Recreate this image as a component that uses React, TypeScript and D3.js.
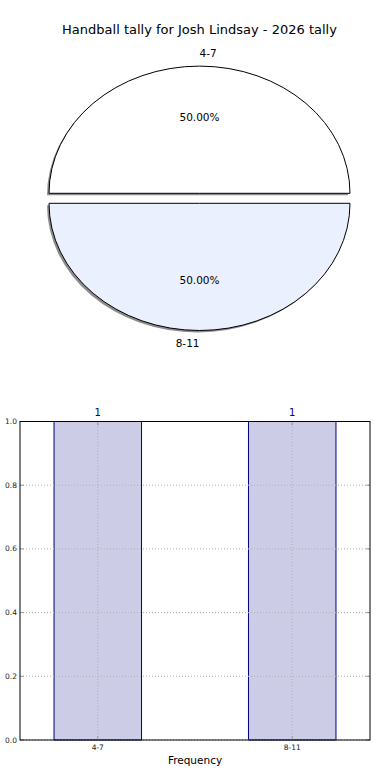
import React from "react";
import * as d3 from "d3";

const title = "Handball tally for Josh Lindsay - 2026 tally";
const categories = ["4-7", "8-11"];
const counts = [1, 1];
const pieColors = ["#ffffff", "#eaf0fd"];
const yTicks = [0, 0.2, 0.4, 0.6, 0.8, 1.0];
const xLabel = "Frequency";

const FONT = "'DejaVu Sans', sans-serif";

export default function App() {
  const W = 390;
  const H = 780;
  const cx = 199.5;
  const cy = 198.3;
  const rx = 150.5;
  const ry = 127.2;
  const explode = 5;
  const total = d3.sum(counts);
  // matplotlib: start at 0deg (right), counterclockwise
  const pie = d3
    .pie<number>()
    .sort(null)
    .startAngle(Math.PI / 2)
    .endAngle(Math.PI / 2 - 2 * Math.PI)(counts);
  const arc = d3.arc<any>().innerRadius(0).outerRadius(1);

  const slices = pie.map((p, i) => {
    const mid = (p.startAngle + p.endAngle) / 2;
    const ux = Math.sin(mid);
    const uy = -Math.cos(mid);
    const ox = ux * explode;
    const oy = uy * explode;
    return { p, i, mid, ux, uy, ox, oy, path: arc(p) as string };
  });

  const x = d3.scaleLinear().domain([-0.4, 1.4]).range([20, 370]);
  const y = d3.scaleLinear().domain([0, 1]).range([740, 421.5]);
  const barW = 0.45;

  return (
    <svg width={W} height={H} style={{ position: "absolute", left: 0, top: 0 }} fontFamily={FONT}>
      <rect width={W} height={H} fill="#fff" />
      <text x={199.5} y={29} textAnchor="middle" dominantBaseline="central" fontSize={13} fill="#000">
        {title}
      </text>
      {slices.map((s) => (
        <path
          key={"sh" + s.i}
          d={s.path}
          transform={`translate(${cx + s.ox - 2},${cy + s.oy + 2}) scale(${rx},${ry})`}
          fill="#000"
          fillOpacity={0.45}
          stroke="none"
        />
      ))}
      {slices.map((s) => (
        <path
          key={"sl" + s.i}
          d={s.path}
          transform={`translate(${cx + s.ox},${cy + s.oy}) scale(${rx},${ry})`}
          fill={pieColors[s.i]}
          stroke="#000"
          strokeWidth={1}
          vectorEffect="non-scaling-stroke"
        />
      ))}
      {slices.map((s) => {
        const lx = cx + s.ox + s.ux * rx * 1.1;
        const ly = cy + s.oy + s.uy * ry * 1.1;
        const px = cx + s.ox + s.ux * rx * 0.6;
        const py = cy + s.oy + s.uy * ry * 0.6;
        return (
          <g key={"lb" + s.i}>
            <text
              x={lx}
              y={ly}
              textAnchor={s.i === 0 ? "start" : "end"}
              dominantBaseline="central"
              fontSize={10.5}
            >
              {categories[s.i]}
            </text>
            <text x={px} y={py} textAnchor="middle" dominantBaseline="central" fontSize={10.5}>
              {((counts[s.i] / total) * 100).toFixed(2) + "%"}
            </text>
          </g>
        );
      })}

      {categories.map((c, i) => (
        <rect
          key={"bar" + c}
          x={x(i - barW / 2)}
          y={y(counts[i])}
          width={x(i + barW / 2) - x(i - barW / 2)}
          height={y(0) - y(counts[i])}
          fill="#ccccE6"
          stroke="#000080"
          strokeWidth={1}
        />
      ))}
      {yTicks.map((t) => (
        <line
          key={"gy" + t}
          x1={20}
          x2={370}
          y1={y(t)}
          y2={y(t)}
          stroke="#b0b0b0"
          strokeWidth={1}
          strokeDasharray="1,2"
        />
      ))}
      {categories.map((c, i) => (
        <line
          key={"gx" + c}
          x1={x(i)}
          x2={x(i)}
          y1={y(0)}
          y2={y(1)}
          stroke="#b0b0b0"
          strokeWidth={1}
          strokeDasharray="1,2"
        />
      ))}
      {yTicks.map((t) => (
        <g key={"ty" + t}>
          <line x1={20} x2={24} y1={y(t)} y2={y(t)} stroke="#999" />
          <line x1={366} x2={370} y1={y(t)} y2={y(t)} stroke="#999" />
          <text x={17} y={y(t)} textAnchor="end" dominantBaseline="central" fontSize={7.5} fill="#222">
            {t.toFixed(1)}
          </text>
        </g>
      ))}
      {categories.map((c, i) => (
        <g key={"tx" + c}>
          <line x1={x(i)} x2={x(i)} y1={740} y2={736} stroke="#999" />
          <line x1={x(i)} x2={x(i)} y1={421.5} y2={425.5} stroke="#999" />
          <text x={x(i)} y={747.5} textAnchor="middle" dominantBaseline="central" fontSize={7.5} fill="#222">
            {c}
          </text>
          <text x={x(i)} y={412} textAnchor="middle" dominantBaseline="central" fontSize={10} fill="#000080">
            {counts[i]}
          </text>
        </g>
      ))}
      <rect x={20} y={421.5} width={350} height={318.5} fill="none" stroke="#000" strokeWidth={1} />
      <text x={195} y={760} textAnchor="middle" dominantBaseline="central" fontSize={10.5}>
        {xLabel}
      </text>
    </svg>
  );
}
